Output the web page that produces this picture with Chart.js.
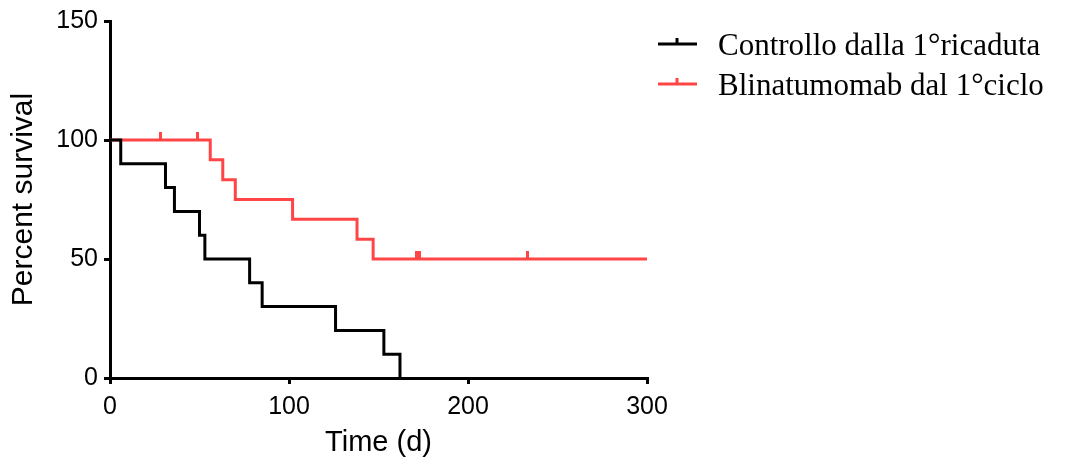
<!DOCTYPE html>
<html>
<head>
<meta charset="utf-8">
<script src="https://cdn.jsdelivr.net/npm/chart.js@4.4.0/dist/chart.umd.min.js"></script>
<style>
html, body { margin: 0; padding: 0; background: #fff; }
</style>
</head>
<body>
<canvas id="kmChart" width="1070" height="461"></canvas>
<script>
// Kaplan-Meier steps
const controlLabel = "Controllo dalla 1°ricaduta";
const controlTimes = [0, 6, 31, 36, 50, 53, 78, 85, 126, 153, 162];
const controlSurv = [100, 90, 80, 70, 60, 50, 40, 30, 20, 10, 0];

const blinaLabel = "Blinatumomab dal 1°ciclo";
const blinaTimes = [0, 56, 63, 70, 102, 138, 147, 300];
const blinaSurv = [100, 91.7, 83.3, 75, 66.7, 58.3, 50, 50];

// censored observations (small upward ticks)
const blinaCensTimes = [28, 49, 171, 173, 233];
const blinaCensSurv = [100, 100, 50, 50, 50];

const xTicks = [0, 100, 200, 300];
const yTicks = [0, 50, 100, 150];

const black = "#000000";
const red = "#FF4545";

const toPoints = (xs, ys) => xs.map((x, i) => ({ x: x, y: ys[i] }));

// upward tick mark used as a point style
const censorMark = (color) => {
	const c = document.createElement("canvas");
	c.width = 3;
	c.height = 16;
	const g = c.getContext("2d");
	g.fillStyle = color;
	g.fillRect(0, 0, 3, 8);
	return c;
};

const legendPlugin = {
	id: "kmLegend",
	afterDraw(chart) {
		const ctx = chart.ctx;
		const items = chart.data.datasets.filter((d) => d.showInLegend);
		ctx.save();
		items.forEach((d, i) => {
			const y = 44 + i * 40;
			ctx.strokeStyle = d.borderColor;
			ctx.lineWidth = 3;
			ctx.beginPath();
			ctx.moveTo(658, y);
			ctx.lineTo(697, y);
			ctx.moveTo(677, y);
			ctx.lineTo(677, y - 6);
			ctx.stroke();
			ctx.fillStyle = "#000";
			ctx.font = "31px 'Liberation Serif', 'Times New Roman', serif";
			ctx.textBaseline = "alphabetic";
			ctx.fillText(d.label, 718, y + 11);
		});
		ctx.restore();
	},
};

const tickFont = { family: "'Liberation Sans', Arial, sans-serif", size: 25 };
const titleFont = { family: "'Liberation Sans', Arial, sans-serif", size: 29 };

const config = {
	type: "line",
	data: {
		datasets: [
			{
				label: controlLabel,
				data: toPoints(controlTimes, controlSurv),
				borderColor: black,
				borderWidth: 3,
				stepped: "before",
				pointRadius: 0,
				fill: false,
				showInLegend: true,
			},
			{
				label: blinaLabel,
				data: toPoints(blinaTimes, blinaSurv),
				borderColor: red,
				borderWidth: 3,
				stepped: "before",
				pointRadius: 0,
				fill: false,
				showInLegend: true,
			},
			{
				label: "censored",
				data: toPoints(blinaCensTimes, blinaCensSurv),
				showLine: false,
				pointStyle: censorMark(red),
				pointRadius: 4,
				borderColor: red,
			},
		],
	},
	options: {
		responsive: false,
		animation: false,
		layout: { padding: { left: 0, top: 20, right: 423, bottom: 0 } },
		plugins: {
			legend: { display: false },
			tooltip: { enabled: false },
		},
		scales: {
			x: {
				type: "linear",
				min: 0,
				max: 300,
				afterBuildTicks: (s) => { s.ticks = xTicks.map((v) => ({ value: v })); },
				afterFit: (s) => { s.height = 83; },
				ticks: { color: "#000", font: tickFont, padding: 8 },
				grid: { display: true, drawOnChartArea: false, drawTicks: true, tickLength: 6, color: "#000", lineWidth: 3 },
				border: { display: true, color: "#000", width: 3 },
				title: { display: true, text: "Time (d)", color: "#000", font: titleFont, padding: { top: 0, bottom: 1 } },
			},
			y: {
				min: 0,
				max: 150,
				afterBuildTicks: (s) => { s.ticks = yTicks.map((v) => ({ value: v })); },
				afterFit: (s) => { s.width = 110; },
				ticks: { color: "#000", font: tickFont, padding: 6 },
				grid: { display: true, drawOnChartArea: false, drawTicks: true, tickLength: 6, color: "#000", lineWidth: 3 },
				border: { display: true, color: "#000", width: 3 },
				title: { display: true, text: "Percent survival", color: "#000", font: { family: titleFont.family, size: 30 }, padding: { top: 6, bottom: 0 } },
			},
		},
	},
	plugins: [legendPlugin],
};

const kmChart = new Chart(document.getElementById("kmChart"), config);
</script>
</body>
</html>
